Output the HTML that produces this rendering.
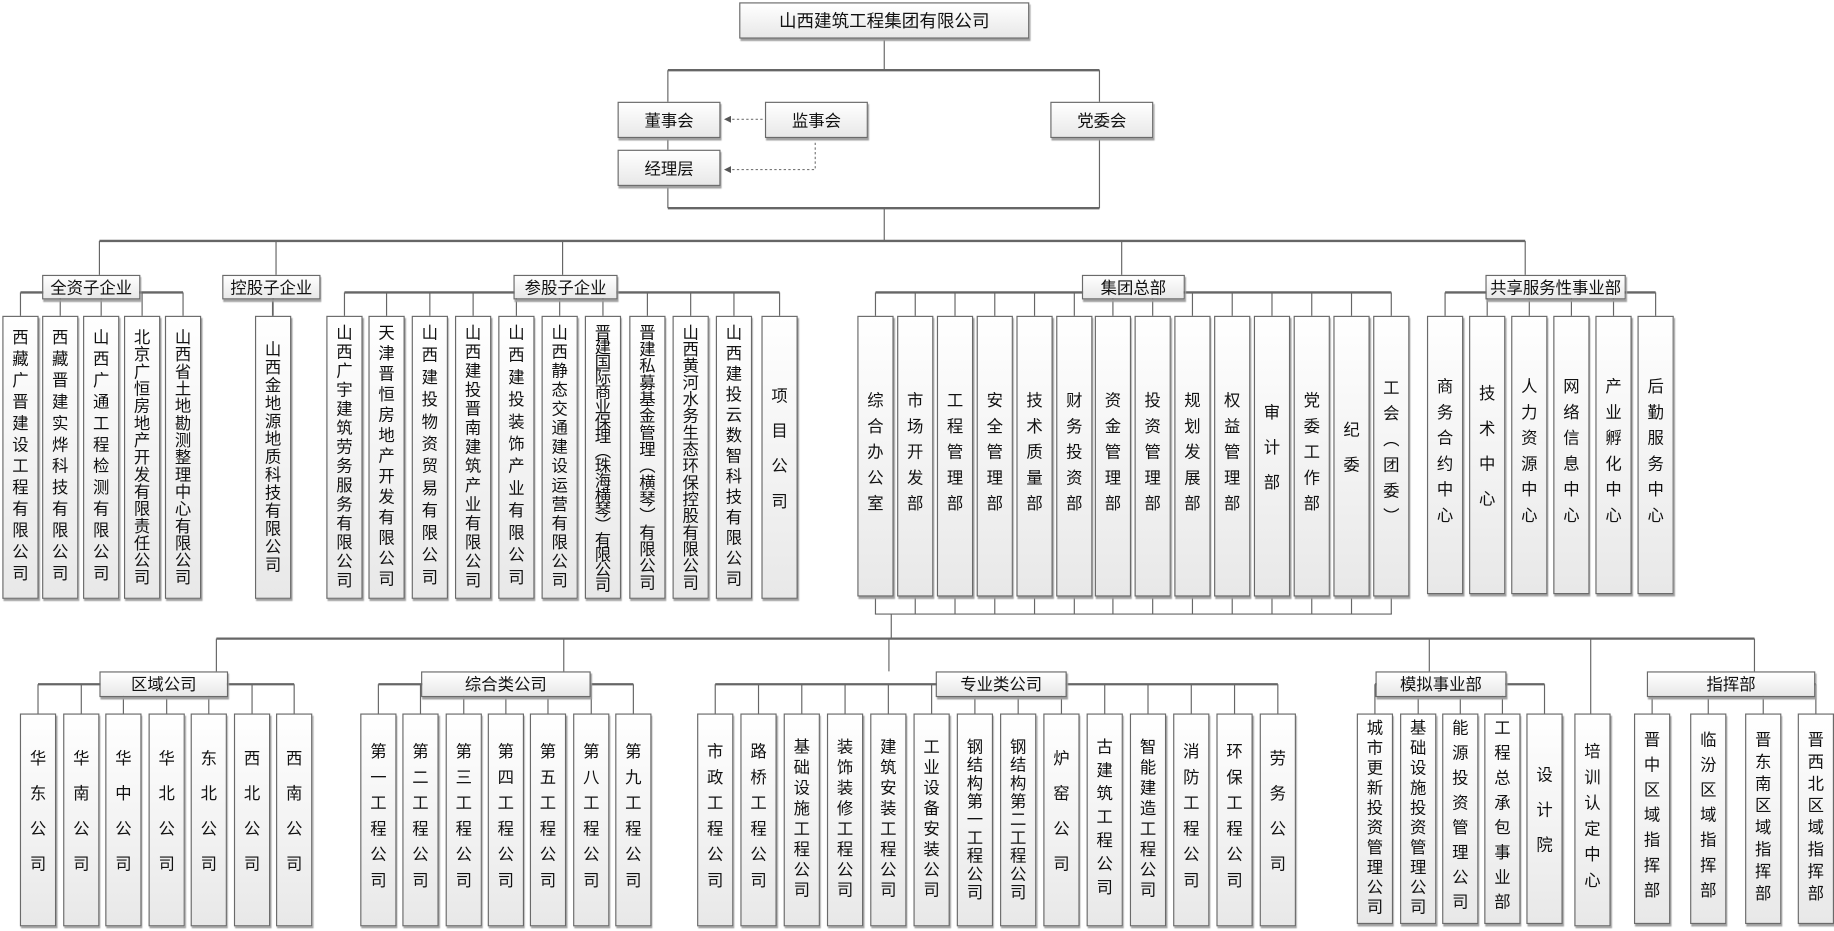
<!DOCTYPE html>
<html><head><meta charset="utf-8"><style>
html,body{margin:0;padding:0;background:#fff;width:1834px;height:931px;overflow:hidden}
#c{position:absolute;left:0;top:0;width:1568px;height:796px;transform:scale(1.16964);transform-origin:0 0;font-family:"Liberation Sans","Noto Sans CJK SC",sans-serif;color:#111}
.b{position:absolute;box-sizing:border-box;border:1px solid #6a6a6a;background:linear-gradient(#ffffff,#e8e8e8);box-shadow:1px 2px 1px #a0a0a0}
.h{display:flex;align-items:center;justify-content:center;font-size:14px;white-space:nowrap}
.v{display:flex;align-items:center;justify-content:center}
.v span{writing-mode:vertical-rl;text-orientation:upright;font-size:14px;line-height:14px}
svg{position:absolute;left:0;top:0}
</style></head><body><div id="c">
<svg width="1568" height="796" id="s"><defs><marker id="ar" markerWidth="6" markerHeight="6" refX="5" refY="3" orient="auto"><path d="M0,0 L6,3 L0,6 z" fill="#555"/></marker></defs></svg>
</div>
<script>
var c=document.getElementById('c'),s=document.getElementById('s'),L='';
function ln(x1,y1,x2,y2,w){L+='<line x1="'+x1+'" y1="'+y1+'" x2="'+x2+'" y2="'+y2+'" stroke="#666" stroke-width="'+(w||1)+'"/>';}
function hb(x,y,w,h,t,fs){var d=document.createElement('div');d.className='b h';d.style.cssText='left:'+x+'px;top:'+y+'px;width:'+w+'px;height:'+h+'px;'+(fs?'font-size:'+fs+'px':'');d.textContent=t;c.appendChild(d);}
function vb(x,y,w,h,t,avail){var d=document.createElement('div');d.className='b v';d.style.cssText='left:'+x+'px;top:'+y+'px;width:'+w+'px;height:'+h+'px';var n=[...t].length;var p=Math.min(avail/n,n<=4?30:22);var sp=document.createElement('span');sp.style.letterSpacing=(p-14)+'px';sp.textContent=t;d.appendChild(sp);c.appendChild(d);}
hb(632,2,248,31,'山西建筑工程集团有限公司',15);
ln(756,33,756,60);ln(571,60,940,60,2);ln(571,60,571,87);ln(940,60,940,87);
hb(528,87,88,31,'董事会');hb(654,87,88,31,'监事会');hb(898,87,88,31,'党委会');hb(528,128,88,31,'经理层');
ln(571,118,571,128);ln(571,159,571,178);ln(940,118,940,178);ln(571,178,940,178,2);ln(756,178,756,206);
L+='<line x1="652" y1="102" x2="620" y2="102" stroke="#777" stroke-dasharray="2,2" marker-end="url(#ar)"/>';
L+='<polyline points="697,122 697,145 620,145" fill="none" stroke="#777" stroke-dasharray="2,2" marker-end="url(#ar)"/>';
ln(85,206,1304,206,2);
[85,236,481,959,1304].forEach(function(x){ln(x,206,x,235);});
function group(lab,lx,lw,ly,lh,xs,w,by,bh,texts,avail,barY){
  var cs=xs.map(function(x){return x+w/2;});
  if(cs.length>1)ln(Math.min.apply(0,cs),barY,Math.max.apply(0,cs),barY,2);
  cs.forEach(function(cx){ln(cx,barY,cx,by);});
  xs.forEach(function(x,i){vb(x,by,w,bh,texts[i],avail);});
  if(lab)hb(lx,ly,lw,lh,lab);
}
function seq(a,n,st){var r=[];for(var i=0;i<n;i++)r.push(Math.round(a+i*st));return r;}
group('全资子企业',36,84,235,21,[2,36,71,106,141],31,270,242,['西藏广晋建设工程有限公司','西藏晋建实烨科技有限公司','山西广通工程检测有限公司','北京广恒房地产开发有限责任公司','山西省土地勘测整理中心有限公司'],220,250);
ln(233,256,233,270);
group('控股子企业',190,84,235,21,[218],31,270,242,['山西金地源地质科技有限公司'],200,250);
group('参股子企业',439,89,235,21,[279,315,352,389,426,463,500,538,575,612,651],31,270,242,['山西广宇建筑劳务服务有限公司','天津晋恒房地产开发有限公司','山西建投物资贸易有限公司','山西建投晋南建筑产业有限公司','山西建投装饰产业有限公司','山西静态交通建设运营有限公司','晋建国际商业保理（珠海横琴）有限公司','晋建私募基金管理（横琴）有限公司','山西黄河水务生态环保控股有限公司','山西建投云数智科技有限公司','项目公司'],228,250);
var jx=seq(733,14,33.9);
group('集团总部',925,88,235,21,jx,31,270,240,['综合办公室','市场开发部','工程管理部','安全管理部','技术质量部','财务投资部','资金管理部','投资管理部','规划发展部','权益管理部','审计部','党委工作部','纪委','工会（团委）'],160,250);
group('共享服务性事业部',1270,120,235,21,[1220,1256,1292,1328,1364,1400],31,270,238,['商务合约中心','技术中心','人力资源中心','网络信息中心','产业孵化中心','后勤服务中心'],170,250);
jx.forEach(function(x){ln(x+15.5,510,x+15.5,525);});
ln(748,525,1190,525);ln(762,525,762,546);
ln(185,546,1500,546,2);
[185,482,760,1222,1500].forEach(function(x){ln(x,546,x,574);});
ln(1360,546,1360,610);
group('区域公司',85,110,574,22,seq(17,7,36.5),31,610,182,['华东公司','华南公司','华中公司','华北公司','东北公司','西北公司','西南公司'],120,585);
group('综合类公司',360,145,574,22,seq(308,7,36.3),31,610,182,['第一工程公司','第二工程公司','第三工程公司','第四工程公司','第五工程公司','第八工程公司','第九工程公司'],140,585);
group('专业类公司',800,112,574,22,seq(596,14,37),31,610,182,['市政工程公司','路桥工程公司','基础设施工程公司','装饰装修工程公司','建筑安装工程公司','工业设备安装公司','钢结构第一工程公司','钢结构第二工程公司','炉窑公司','古建筑工程公司','智能建造工程公司','消防工程公司','环保工程公司','劳务公司'],140,585);
group('模拟事业部',1176,112,574,22,[1160,1197,1233,1269,1305],31,610,180,['城市更新投资管理公司','基础设施投资管理公司','能源投资管理公司','工程总承包事业部','设计院'],170,585);
vb(1346,610,31,182,'培训认定中心',150);
group('指挥部',1408,144,574,22,[1397,1445,1492,1537],31,610,180,['晋中区域指挥部','临汾区域指挥部','晋东南区域指挥部','晋西北区域指挥部'],150,585);
s.innerHTML+=L;
c.insertBefore(s,c.firstChild);
</script>
</body></html>
